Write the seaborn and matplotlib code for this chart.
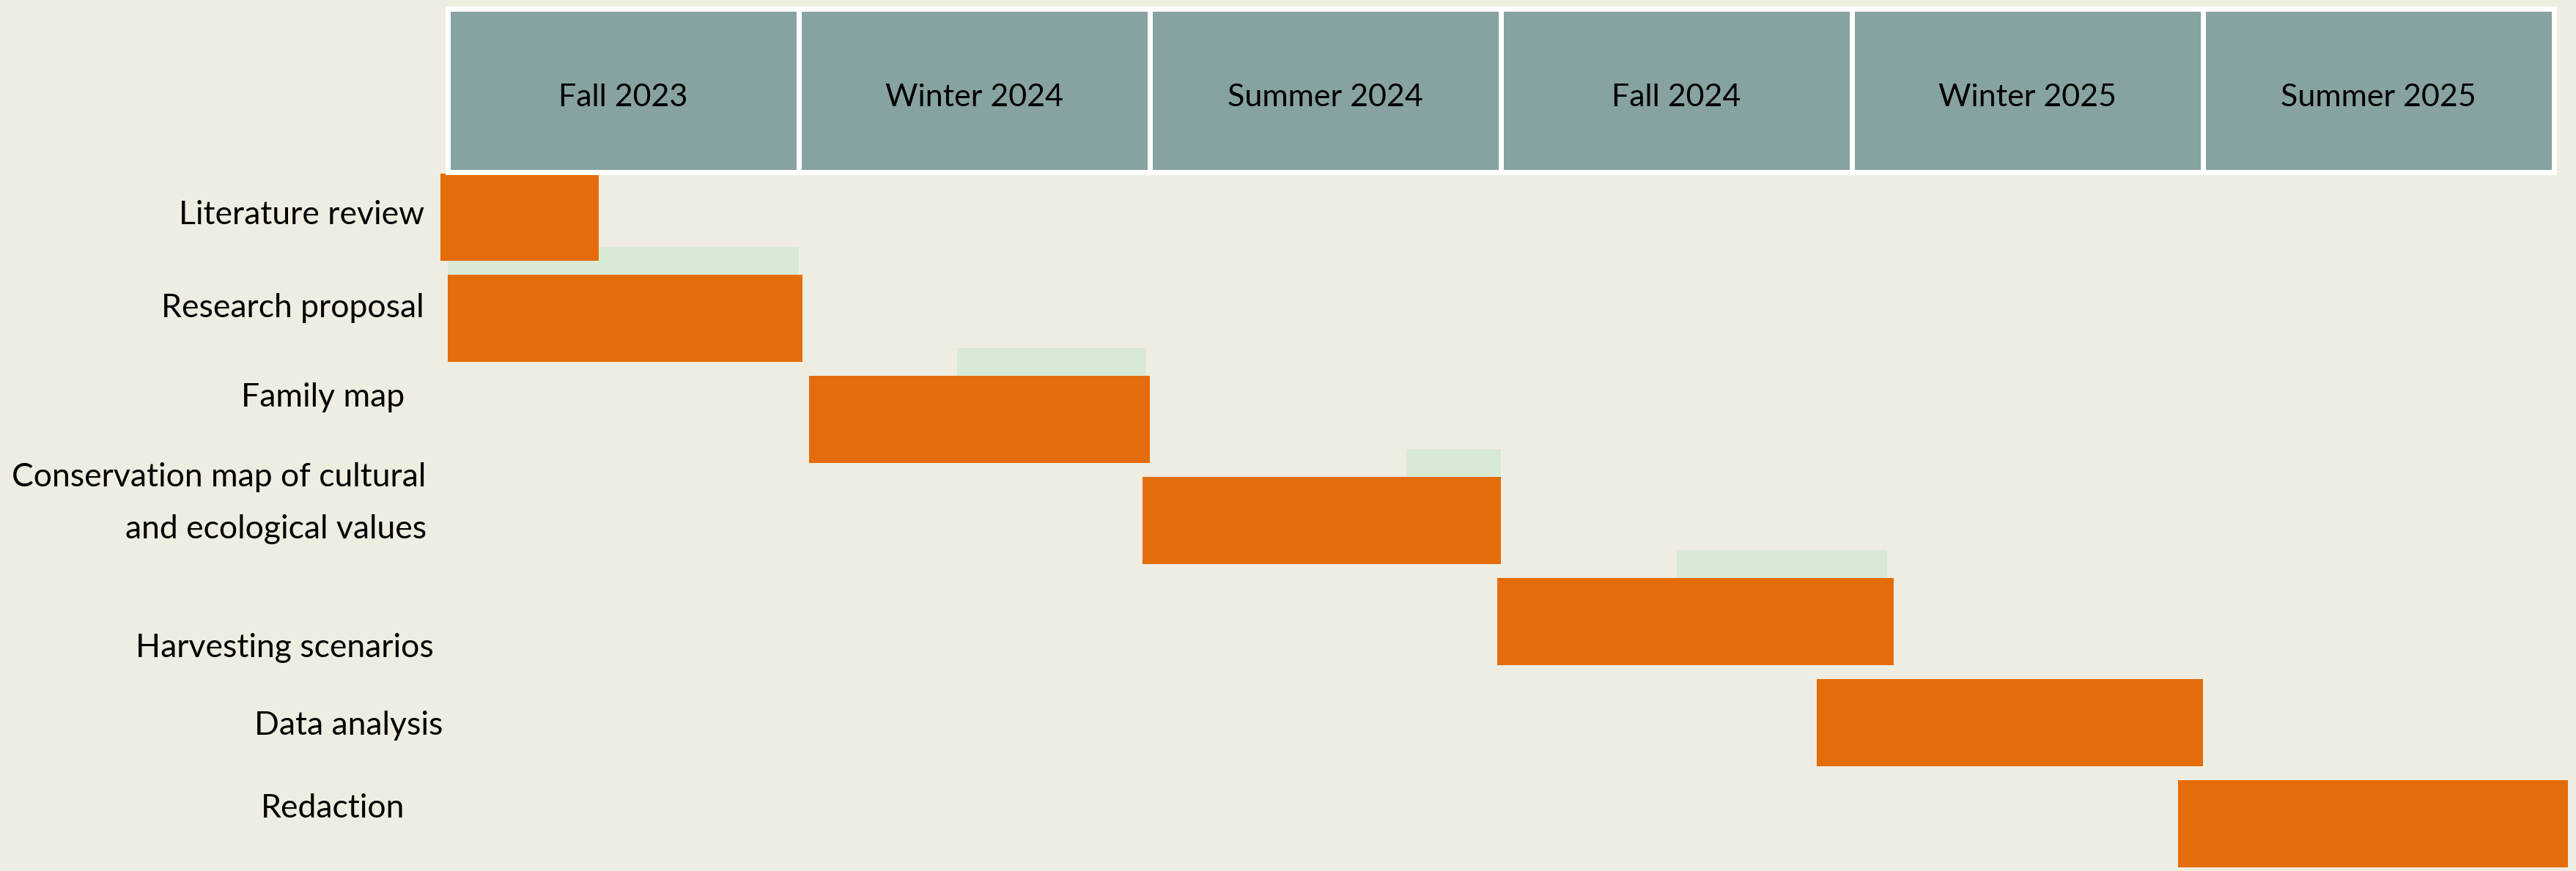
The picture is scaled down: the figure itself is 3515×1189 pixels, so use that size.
import pandas as pd
import seaborn as sns
import matplotlib.pyplot as plt

# header band: one cell per semester
semesters = ["Fall 2023", "Winter 2024", "Summer 2024", "Fall 2024", "Winter 2025", "Summer 2025"]

# tasks, start / end in semesters (0 = start of Fall 2023)
tasks = [
    "Literature review",
    "Research proposal",
    "Family map",
    "Conservation map of cultural\nand ecological values",
    "Harvesting scenarios",
    "Data analysis",
    "Redaction",
]
task_start = [-0.02, 0.00, 1.03, 1.98, 2.99, 3.90, 4.93]
task_end = [0.43, 1.01, 2.00, 3.00, 4.12, 5.00, 6.04]

# pale green bars peeking out above the first five tasks
ghost_start = [0.00, 0.00, 1.45, 2.73, 3.50]
ghost_end = [0.41, 1.00, 1.99, 3.00, 4.10]

# colours / layout
col_bg = "#EFEDE1"
col_head = "#87A3A1"
col_bar = "#E46C0A"
col_ghost = "#D8EAD6"
fs_head = 31
fs_label = 32
bar_h = 0.86
ghost_h = 0.28
head_top, head_bottom = -2.06, -0.45
label_x = [-0.067, -0.067, -0.123, -0.061, -0.040, -0.013, -0.123]
label_dy = [-0.02, -0.10, -0.22, -0.17, 0.26, 0.03, -0.15]

sns.set_theme(style="white", rc={"figure.facecolor": col_bg, "axes.facecolor": col_bg})
plt.rcParams["font.family"] = ["Lato", "DejaVu Sans"]

df = pd.DataFrame({"task": tasks, "start": task_start, "end": task_end})
df["duration"] = df["end"] - df["start"]

fig = plt.figure(figsize=(35.15, 11.89), dpi=100)
ax = fig.add_axes([0, 0, 1, 1])

# task bars
sns.barplot(
    data=df, x="duration", y="task",
    left=df["start"],
    width=bar_h,
    color=col_bar,
    saturation=1,
    errorbar=None,
    linewidth=0,
    zorder=2,
    ax=ax,
)

# green bars sitting just on top of the orange ones
ghost_rows = list(range(len(ghost_start)))
ax.barh(
    [r - bar_h / 2 - ghost_h for r in ghost_rows],
    [e - s for s, e in zip(ghost_start, ghost_end)],
    left=ghost_start,
    height=ghost_h,
    align="edge",
    color=col_ghost,
    linewidth=0,
    zorder=1,
)

# semester header
ax.bar(
    range(len(semesters)),
    head_bottom - head_top,
    bottom=head_top,
    width=1,
    align="edge",
    color=col_head,
    edgecolor="white",
    linewidth=5.04,
    zorder=3,
)
for i, s in enumerate(semesters):
    ax.text(i + 0.5, (head_top + head_bottom) / 2 + 0.07, s,
            ha="center", va="center", fontsize=fs_head, color="black", zorder=4)

# task labels
for i, t in enumerate(tasks):
    ax.text(label_x[i], i + label_dy[i], t, ha="right", va="center",
            multialignment="right", linespacing=1.9, fontsize=fs_label, color="black")

ax.set_xlim(-1.2756, 6.0626)
ax.set_ylim(6.466, -2.15)
ax.set(xlabel="", ylabel="")
ax.set_axis_off()

fig.savefig("out.png", dpi=100, facecolor=col_bg)
